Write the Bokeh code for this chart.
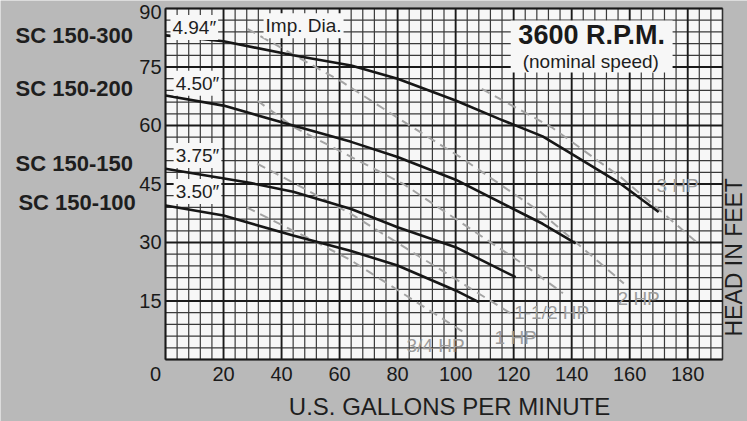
from bokeh.plotting import figure
from bokeh.models import Label, Range1d, BoxAnnotation
from bokeh.core.properties import value
from bokeh.embed import file_html
from bokeh.resources import INLINE

# ---------------- data ----------------
x_ticks = [0, 20, 40, 60, 80, 100, 120, 140, 160, 180]
x_minor = list(range(0, 193, 4))
y_ticks = [0, 15, 30, 45, 60, 75, 90]
y_minor = list(range(0, 91, 3))

# impeller curves (GPM, head in feet)
gpm_494 = [0, 20, 44, 64, 80, 100, 115, 130, 140, 156, 170]
head_494 = [83.1, 81.6, 78.0, 75.4, 72.0, 66.4, 61.7, 57.2, 52.7, 45.5, 37.8]
gpm_450 = [0, 20, 44, 64, 80, 100, 130, 141.4]
head_450 = [67.7, 65.1, 60.0, 55.8, 51.9, 46.1, 34.8, 29.8]
gpm_375 = [0, 29, 44, 64, 80, 100, 120.7]
head_375 = [48.9, 45.3, 43.0, 38.6, 33.9, 28.8, 21.1]
gpm_350 = [0, 20, 44, 64, 80, 100, 108]
head_350 = [39.5, 36.9, 31.8, 27.8, 24.1, 17.7, 14.7]

# horsepower lines
hp3_gpm = [109, 133, 157, 170, 184]
hp3_head = [69.4, 59.6, 46.7, 38.5, 29.5]
hp2_gpm = [28.2, 61, 83.3, 101.6, 129.3, 158]
hp2_head = [84.8, 71.1, 60.4, 51.9, 37.8, 19.5]
hp15_gpm = [31.6, 44.2, 82, 123, 137]
hp15_head = [66.4, 59.6, 45.0, 24.6, 17.0]
hp1_gpm = [31.6, 46.4, 63.8, 119]
hp1_head = [50.2, 44.4, 37.4, 11.8]
hp34_gpm = [28, 53, 64, 103.6]
hp34_head = [39.0, 29.7, 25.4, 6.6]

models = ["SC 150-300", "SC 150-200", "SC 150-150", "SC 150-100"]
diameters = ["4.94\u2033", "4.50\u2033", "3.75\u2033", "3.50\u2033"]
hp_names = ["3 HP", "2 HP", "1-1/2 HP", "1 HP", "3/4 HP"]
x_title = "U.S. GALLONS PER MINUTE"
y_title = "HEAD IN FEET"

# ---------------- styling ----------------
BG = "#b9b9b9"
PAPER = "#f7f7f7"
INK = "#161616"
HPC = "#a3a3a3"
FONT = "Liberation Sans"

# The frame fills the whole canvas so that texts in the margins are not clipped;
# the ranges are padded so that the chart area sits where the original's does.
p = figure(width=747, height=421, x_range=Range1d(-56.88, 200.62), y_range=Range1d(-15.90, 92.05),
           output_backend="svg", toolbar_location=None,
           x_axis_location=None, y_axis_location=None,
           min_border=0)
p.background_fill_color = BG
p.border_fill_color = BG
p.outline_line_color = None
p.grid.visible = False

x0, x1 = x_minor[0], x_minor[-1]
y0, y1 = y_minor[0], y_minor[-1]

# chart paper
p.add_layout(BoxAnnotation(left=x0, right=x1, bottom=y0, top=y1, fill_color=PAPER,
                           fill_alpha=1, line_color=None, level="underlay"))

# grid: minor every 4 GPM / 3 ft, major every 20 GPM / 15 ft
p.segment(x0=x_minor, y0=[y0] * len(x_minor), x1=x_minor, y1=[y1] * len(x_minor),
          line_color="#3a3a3a", line_width=1.2)
p.segment(x0=[x0] * len(y_minor), y0=y_minor, x1=[x1] * len(y_minor), y1=y_minor,
          line_color="#3a3a3a", line_width=1.2)
p.segment(x0=x_ticks, y0=[y0] * len(x_ticks), x1=x_ticks, y1=[y1] * len(x_ticks),
          line_color="#1a1a1a", line_width=1.8)
p.segment(x0=[x0] * len(y_ticks), y0=y_ticks, x1=[x1] * len(y_ticks), y1=y_ticks,
          line_color="#1a1a1a", line_width=1.8)

# tick labels
tick_style = dict(text_font=value(FONT), text_font_size="20px", text_color="#1a1a1a",
                  text_baseline="middle")
p.text(x=x_ticks[1:], y=[y0] * (len(x_ticks) - 1), text=[str(v) for v in x_ticks[1:]],
       text_align="center", y_offset=15, **tick_style)
p.text(x=x_ticks[:1], y=[y0], text=[str(x_ticks[0])],
       text_align="center", y_offset=15, x_offset=-10, **tick_style)
p.text(x=[x0] * (len(y_ticks) - 2), y=y_ticks[1:-1], text=[str(v) for v in y_ticks[1:-1]],
       text_align="right", x_offset=-4, **tick_style)
p.text(x=[x0], y=y_ticks[-1:], text=[str(y_ticks[-1])],
       text_align="right", x_offset=-4, y_offset=4, **tick_style)

# horsepower lines
for gx, gy in [(hp3_gpm, hp3_head), (hp2_gpm, hp2_head), (hp15_gpm, hp15_head),
               (hp1_gpm, hp1_head), (hp34_gpm, hp34_head)]:
    p.line(gx, gy, line_color=HPC, line_width=2, line_dash="9 6")

# impeller curves
for gx, gy in [(gpm_494, head_494), (gpm_450, head_450), (gpm_375, head_375), (gpm_350, head_350)]:
    p.line(gx, gy, line_color=INK, line_width=2.6)

# white panel for the speed note (hides the grid behind it)
p.add_layout(BoxAnnotation(left=119, right=174.8, bottom=73.6, top=86.9,
                           fill_color=PAPER, fill_alpha=1, line_color=None))
# chart border
p.add_layout(BoxAnnotation(left=x0, right=x1, bottom=y0, top=y1, fill_alpha=0,
                           line_color=INK, line_width=2.2))


def label(**kw):
    kw.setdefault("text_font", FONT)
    kw.setdefault("text_color", "#1e1e1e")
    kw.setdefault("text_baseline", "middle")
    p.add_layout(Label(**kw))


# model names on the left
for name, (lx, ly) in zip(models, [(-51.7, 83.1), (-51.7, 69.5), (-51.7, 50.3), (-50.7, 40.3)]):
    label(x=lx, y=ly, text=name, text_font_size="22px", text_font_style="bold")

# axis titles
label(x=97.9, y=-12.1, text=x_title, text_font_size="24px", text_align="center")
label(x=196.0, y=26.2, text=y_title, text_font_size="23px", text_align="center", angle=1.5707963)

# diameter labels
for d, (lx, ly) in zip(diameters, [(1.7, 85.1), (2.8, 70.8), (2.8, 52.3), (2.8, 43.1)]):
    label(x=lx, y=ly, text=d, text_font_size="19px",
          background_fill_color=PAPER, background_fill_alpha=1, padding=2)

label(x=33.8, y=85.6, text="Imp. Dia.", text_font_size="19px",
      background_fill_color=PAPER, background_fill_alpha=1, padding=2)

label(x=146.9, y=83.1, text="3600 R.P.M.", text_font_size="27px", text_font_style="bold",
      text_color="#1a1a1a", text_align="center")
label(x=146.6, y=76.4, text="(nominal speed)", text_font_size="19px", text_align="center")

# horsepower labels
for name, (lx, ly) in zip(hp_names, [(176.5, 44.6), (163.1, 15.6), (133.1, 12.1), (120.7, 5.6), (93.1, 3.6)]):
    label(x=lx, y=ly, text=name, text_font_size="19px", text_color="#9c9c9c", text_align="center")

open("out.html", "w").write(file_html(p, INLINE))
